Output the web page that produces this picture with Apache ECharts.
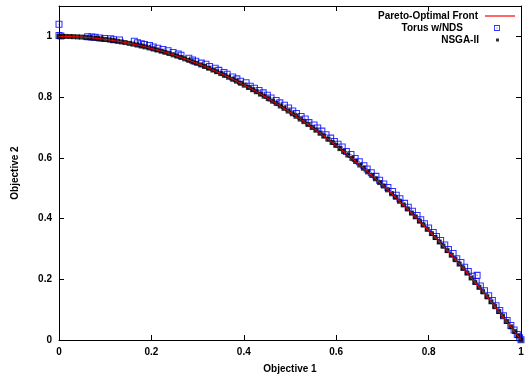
<!DOCTYPE html>
<html>
<head>
<meta charset="utf-8">
<script src="https://cdn.jsdelivr.net/npm/echarts@6/dist/echarts.min.js"></script>
<style>
  html, body { margin: 0; padding: 0; background: #fff; }
  #chart { width: 529px; height: 381px; }
</style>
</head>
<body>
<div id="chart"></div>
<script>
// Pareto-optimal front, sampled
var frontX = [0, 0.05, 0.1, 0.15, 0.2, 0.25, 0.3, 0.35, 0.4, 0.45, 0.5,
    0.55, 0.6, 0.65, 0.7, 0.75, 0.8, 0.85, 0.9, 0.95, 1];
var frontY = [1, 0.9975, 0.99, 0.9775, 0.96, 0.9375, 0.91, 0.8775, 0.84, 0.7975, 0.75,
    0.6975, 0.64, 0.5775, 0.51, 0.4375, 0.36, 0.2775, 0.19, 0.0975, 0];

// Torus w/NDS
var torusX = [0, 0, 0.004, 0.062, 0.071, 0.078, 0.088, 0.099, 0.112, 0.118, 0.131,
    0.163, 0.17, 0.178, 0.185, 0.196, 0.204, 0.214, 0.225, 0.236, 0.247, 0.258,
    0.264, 0.281, 0.289, 0.296, 0.308, 0.318, 0.326, 0.338, 0.346, 0.357, 0.364,
    0.376, 0.385, 0.393, 0.405, 0.414, 0.423, 0.433, 0.442, 0.451, 0.459, 0.47,
    0.478, 0.488, 0.497, 0.506, 0.514, 0.524, 0.533, 0.541, 0.552, 0.56, 0.569,
    0.578, 0.588, 0.596, 0.604, 0.613, 0.622, 0.632, 0.641, 0.65, 0.66, 0.667,
    0.676, 0.686, 0.694, 0.703, 0.712, 0.722, 0.73, 0.738, 0.748, 0.756, 0.765,
    0.775, 0.783, 0.791, 0.8, 0.81, 0.817, 0.826, 0.835, 0.843, 0.853, 0.861,
    0.87, 0.878, 0.886, 0.895, 0.905, 0.903, 0.912, 0.921, 0.93, 0.938, 0.946,
    0.954, 0.962, 0.97, 0.978, 0.985, 0.992, 0.997, 1];
var torusY = [1.04, 1.003, 1.001, 0.999, 0.998, 0.997, 0.995, 0.993, 0.992, 0.989, 0.988,
    0.984, 0.979, 0.976, 0.973, 0.97, 0.965, 0.961, 0.957, 0.953, 0.947, 0.942,
    0.938, 0.928, 0.922, 0.918, 0.912, 0.908, 0.901, 0.895, 0.888, 0.881, 0.875,
    0.866, 0.86, 0.852, 0.847, 0.836, 0.829, 0.822, 0.814, 0.806, 0.797, 0.789,
    0.781, 0.773, 0.764, 0.754, 0.746, 0.736, 0.728, 0.716, 0.708, 0.698, 0.688,
    0.676, 0.665, 0.654, 0.645, 0.636, 0.621, 0.611, 0.598, 0.587, 0.574, 0.563,
    0.551, 0.539, 0.526, 0.514, 0.502, 0.489, 0.477, 0.465, 0.45, 0.437, 0.424,
    0.41, 0.396, 0.383, 0.369, 0.354, 0.341, 0.328, 0.313, 0.298, 0.285, 0.268,
    0.255, 0.24, 0.226, 0.21, 0.213, 0.193, 0.178, 0.162, 0.146, 0.13, 0.113,
    0.097, 0.08, 0.064, 0.048, 0.033, 0.018, 0.007, 0.001];

// NSGA-II
var nsgaX = [0, 0.008, 0.015, 0.024, 0.031, 0.04, 0.048, 0.057, 0.066, 0.074, 0.083,
    0.091, 0.1, 0.109, 0.117, 0.126, 0.135, 0.143, 0.152, 0.16, 0.169, 0.178,
    0.186, 0.195, 0.204, 0.212, 0.221, 0.229, 0.238, 0.247, 0.255, 0.264, 0.272,
    0.281, 0.29, 0.298, 0.307, 0.315, 0.324, 0.333, 0.341, 0.35, 0.358, 0.367,
    0.376, 0.384, 0.393, 0.401, 0.41, 0.419, 0.427, 0.436, 0.444, 0.453, 0.462,
    0.47, 0.479, 0.487, 0.496, 0.505, 0.513, 0.522, 0.53, 0.539, 0.548, 0.556,
    0.565, 0.573, 0.582, 0.591, 0.599, 0.608, 0.616, 0.625, 0.634, 0.642, 0.651,
    0.659, 0.668, 0.677, 0.685, 0.694, 0.702, 0.711, 0.72, 0.728, 0.737, 0.745,
    0.754, 0.763, 0.771, 0.78, 0.788, 0.797, 0.806, 0.814, 0.823, 0.831, 0.84,
    0.849, 0.857, 0.866, 0.874, 0.883, 0.892, 0.9, 0.909, 0.917, 0.926, 0.935,
    0.943, 0.952, 0.96, 0.969, 0.978, 0.986, 0.993, 1];
var nsgaY = [1, 1, 0.9998, 0.9994, 0.999, 0.9984, 0.9977, 0.9968, 0.9956, 0.9945, 0.9931,
    0.9917, 0.99, 0.9881, 0.9863, 0.9841, 0.9818, 0.9796, 0.9769, 0.9744, 0.9714, 0.9683,
    0.9654, 0.962, 0.9584, 0.9551, 0.9512, 0.9476, 0.9434, 0.939, 0.935, 0.9303, 0.926,
    0.921, 0.9159, 0.9112, 0.9058, 0.9008, 0.895, 0.8891, 0.8837, 0.8775, 0.8718, 0.8653,
    0.8586, 0.8525, 0.8455, 0.8392, 0.8319, 0.8244, 0.8177, 0.8099, 0.8029, 0.7948, 0.7866,
    0.7791, 0.7706, 0.7628, 0.754, 0.745, 0.7368, 0.7275, 0.7191, 0.7095, 0.6997, 0.6909,
    0.6808, 0.6717, 0.6613, 0.6507, 0.6412, 0.6303, 0.6205, 0.6094, 0.598, 0.5878, 0.5762,
    0.5657, 0.5538, 0.5417, 0.5308, 0.5184, 0.5072, 0.4945, 0.4816, 0.47, 0.4568, 0.445,
    0.4315, 0.4178, 0.4056, 0.3916, 0.3791, 0.3648, 0.3504, 0.3374, 0.3227, 0.3094, 0.2944,
    0.2792, 0.2656, 0.25, 0.2361, 0.2203, 0.2043, 0.19, 0.1737, 0.1591, 0.1425, 0.1258,
    0.1107, 0.0937, 0.0784, 0.061, 0.0435, 0.0278, 0.014, 0];

var xTicks = [0, 0.2, 0.4, 0.6, 0.8, 1];
var yTicks = [0, 0.2, 0.4, 0.6, 0.8, 1];

function pairs(xs, ys) {
    return xs.map(function (x, i) { return [x, ys[i]]; });
}

// gnuplot-ish symbols
var boxDot = "path://M0,0H10V10H0Z M1.5,1.5V8.5H8.5V1.5Z M4.3,4.3H5.7V5.7H4.3Z";
var dash = "path://M0,0H30V1.2H0Z";
var dot = "path://M0,0H3V3H0Z";
var font = "Liberation Sans, Arial, Helvetica, sans-serif";

var label = { color: "#000", fontFamily: font, fontSize: 10, fontWeight: "bold" };

// one legend per entry so text is right aligned and samples sit in a column
function legendAt(name, top, w, h, right, padR, icon) {
    return {
        data: [{ name: name, icon: icon }],
        orient: "vertical",
        align: "right",
        right: right,
        top: top,
        padding: 0,
        itemWidth: w,
        itemHeight: h,
        selectedMode: false,
        textStyle: { color: "#000", fontFamily: font, fontSize: 10, fontWeight: "bold", padding: [0, padR, 0, 0] }
    };
}

var chart = echarts.init(document.getElementById("chart"), null, { renderer: "canvas" });

chart.setOption({
    backgroundColor: "#fff",
    animation: false,
    grid: { left: 59, right: 8, top: 6, bottom: 41 },
    legend: [
        legendAt("Pareto-Optimal Front", 11, 30, 8, 14, 2, dash),
        legendAt("Torus w/NDS", 23, 6, 6, 29, 26, boxDot),
        legendAt("NSGA-II", 35, 3, 3, 30, 12, dot)
    ],
    xAxis: [
        {
            type: "value",
            min: 0,
            max: 1,
            interval: 0.2,
            name: "Objective 1",
            nameLocation: "middle",
            nameGap: 24,
            nameTextStyle: label,
            axisLine: { lineStyle: { color: "#000", width: 1 } },
            axisTick: { inside: true, length: 5, lineStyle: { color: "#000" } },
            axisLabel: Object.assign({ margin: 7, formatter: function (v) {
                return xTicks.indexOf(v) >= 0 ? String(v) : "";
            } }, label),
            splitLine: { show: false }
        },
        {
            type: "value",
            position: "top",
            min: 0,
            max: 1,
            interval: 0.2,
            axisLine: { onZero: false, lineStyle: { color: "#000", width: 1 } },
            axisTick: { inside: true, length: 5, lineStyle: { color: "#000" } },
            axisLabel: { show: false },
            splitLine: { show: false }
        }
    ],
    yAxis: [
        {
            type: "value",
            min: 0,
            max: 1.1,
            interval: 0.2,
            name: "Objective 2",
            nameLocation: "middle",
            nameGap: 39,
            nameTextStyle: label,
            axisLine: { lineStyle: { color: "#000", width: 1 } },
            axisTick: { inside: true, length: 5, lineStyle: { color: "#000" } },
            axisLabel: Object.assign({ margin: 7, formatter: function (v) {
                var r = Math.round(v * 10) / 10;
                return yTicks.indexOf(r) >= 0 && v <= 1.0001 ? String(r) : "";
            } }, label),
            splitLine: { show: false }
        },
        {
            type: "value",
            position: "right",
            min: 0,
            max: 1.1,
            interval: 0.2,
            axisLine: { show: true, onZero: false, lineStyle: { color: "#000", width: 1 } },
            axisTick: { show: true, inside: true, length: 5, lineStyle: { color: "#000" } },
            axisLabel: { show: false },
            splitLine: { show: false }
        }
    ],
    series: [
        {
            name: "Pareto-Optimal Front",
            type: "line",
            data: pairs(frontX, frontY),
            smooth: true,
            symbol: "none",
            lineStyle: { color: "#ff0000", width: 1 },
            itemStyle: { color: "#ff0000" }
        },
        {
            name: "Torus w/NDS",
            type: "scatter",
            data: pairs(torusX, torusY),
            symbol: boxDot,
            symbolSize: 7,
            itemStyle: { color: "#0000ff" }
        },
        {
            name: "NSGA-II",
            type: "scatter",
            data: pairs(nsgaX, nsgaY),
            symbol: "rect",
            symbolSize: 5,
            itemStyle: { color: "#000" }
        }
    ]
});
</script>
</body>
</html>
